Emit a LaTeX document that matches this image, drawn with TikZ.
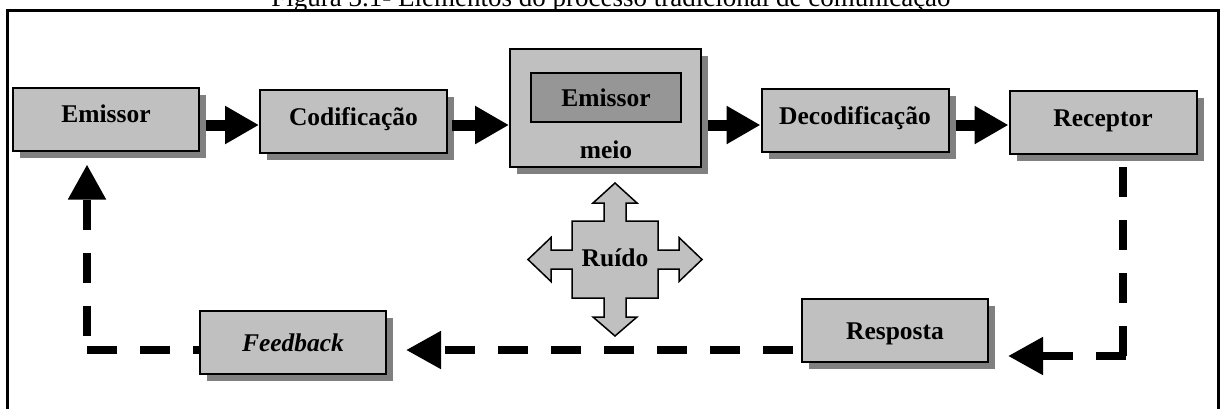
\documentclass[tikz,border=0pt]{standalone}
\usepackage{fontspec}
\setmainfont{Liberation Serif}
\usetikzlibrary{arrows.meta,shadows,calc}
\definecolor{boxgray}{HTML}{C0C0C0}
\definecolor{shadowgray}{HTML}{808080}
\definecolor{innergray}{HTML}{969696}
\begin{document}
\begin{tikzpicture}[x=1pt,y=-1pt,
  lbl/.style={font=\fontsize{25.5}{30}\selectfont\bfseries},
  box/.style={lbl, draw=black, line width=2pt, fill=boxgray, inner sep=0pt,
    minimum width=187pt, minimum height=63pt, text height=17pt, text depth=0pt,
    drop shadow={shadow xshift=7pt, shadow yshift=-7pt, fill=shadowgray, opacity=1}},
  toprow/.style={text depth=10pt},
  bigarrow/.style={line width=11pt, -{Triangle[length=34pt,width=36pt]}, shorten <=6pt},
  dasharrow/.style={line width=8pt, dash pattern=on 30pt off 23pt, -{Triangle[length=35pt,width=36pt]}},
  dashline/.style={line width=8pt, dash pattern=on 30pt off 23pt}]
\useasboundingbox (0,0) rectangle (1224,408);
\clip (0,0) rectangle (1224,408);
% title (cut off at the top)
\node[anchor=base, font=\fontsize{27}{32}\selectfont, inner sep=0pt] (title) at (611,6)
  {Figura 3.1- Elementos do processo tradicional de comunica\c{c}\~ao};
% frame
\draw[line width=3pt] (7,10) rectangle (1218,440);
% top row
\node[box, toprow, minimum width=186pt] (emissor) at (106,119) {Emissor};
\node[box, toprow] (codif) at (353.5,121.5) {Codifica\c{c}\~ao};
\node[box, minimum width=191pt, minimum height=118pt] (meio) at (605.5,108) {};
\node[lbl, draw=black, line width=2pt, fill=innergray, minimum width=150pt, minimum height=49pt,
  inner sep=0pt, text height=17pt, text depth=0pt] (emissorb) at (606,97.5) {Emissor};
\node[lbl, anchor=base, inner sep=0pt] (meiotxt) at (606,158) {meio};
\node[box, toprow] (decod) at (855,120.5) {Decodifica\c{c}\~ao};
\node[box, toprow] (receptor) at (1103,122.5) {Receptor};
% bottom row
\node[box, minimum width=186pt] (feedback) at (293,342.5) {\itshape Feedback};
\node[box, minimum width=186pt] (resposta) at (895,330.5) {Resposta};
% solid arrows
\coordinate (arow) at (0,125);
\draw[bigarrow] (emissor.east |- arow) -- (codif.west |- arow);
\draw[bigarrow, shorten <=4pt] (codif.east |- arow) -- (meio.west |- arow);
\draw[bigarrow] (meio.east |- arow) -- (decod.west |- arow);
\draw[bigarrow] (decod.east |- arow) -- (receptor.west |- arow);
% noise cross
\draw[fill=boxgray, line width=1.5pt, line join=miter]
  (615,183) -- (637,203) -- (626,203) -- (626,221) -- (658,221) -- (658,250) -- (679,250)
  -- (679,237.5) -- (702,259.5) -- (679,281.5) -- (679,269) -- (658,269) -- (658,298)
  -- (626,298) -- (626,317) -- (637,317) -- (615,336) -- (593,317) -- (604,317)
  -- (604,298) -- (572,298) -- (572,269) -- (551,269) -- (551,281.5) -- (528,259.5)
  -- (551,237.5) -- (551,250) -- (572,250) -- (572,221) -- (604,221) -- (604,203)
  -- (593,203) -- cycle;
\node[lbl, inner sep=0pt, text height=17pt, text depth=0pt] (ruido) at (615,258) {Ru\'{\i}do};
% dashed return path
\coordinate (rcorner) at (1123,356);
\draw[dashline, shorten <=12pt] (receptor.south -| rcorner) -- ([yshift=-3pt]rcorner);
\draw[dasharrow, shorten >=19pt] ([xshift=3pt]rcorner) -- (rcorner -| resposta.east);
\draw[dasharrow, shorten <=8pt, shorten >=19pt] ([yshift=-19.5pt]resposta.west) -- ([yshift=-19.5pt]resposta.west -| feedback.east);
\coordinate (fcorner) at (87,350);
\draw[dashline] (fcorner) -- (fcorner -| feedback.west);
\draw[dasharrow, shorten >=13pt] ([yshift=14pt]fcorner) -- (fcorner |- emissor.south);
\end{tikzpicture}
\end{document}
